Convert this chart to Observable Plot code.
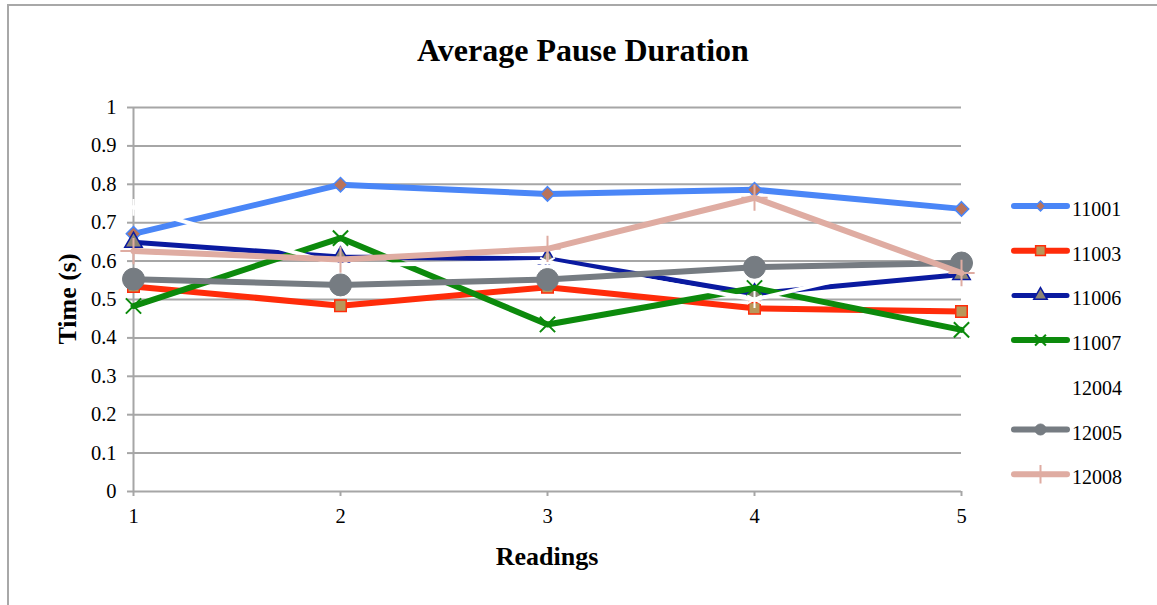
<!DOCTYPE html>
<html>
<head>
<meta charset="utf-8">
<script src="https://cdn.jsdelivr.net/npm/d3@7"></script>
<script src="https://cdn.jsdelivr.net/npm/@observablehq/plot@0.6"></script>
<style>
  html, body { margin: 0; padding: 0; background: #fff; }
</style>
</head>
<body>
<div id="chart"></div>
<script>
// Average pause duration (seconds) per participant over five readings
const readings = [1, 2, 3, 4, 5];
const participants = ["11001", "11003", "11006", "11007", "12004", "12005", "12008"];
const time11001 = [0.671, 0.799, 0.775, 0.786, 0.736];
const time11003 = [0.534, 0.484, 0.532, 0.477, 0.469];
const time11006 = [0.649, 0.611, 0.606, 0.515, 0.565];
const time11007 = [0.483, 0.660, 0.435, 0.530, 0.421];
const time12004 = [0.740, 0.589, 0.598, 0.500, 0.625];
const time12005 = [0.553, 0.538, 0.552, 0.584, 0.595];
const time12008 = [0.626, 0.604, 0.632, 0.765, 0.569];
const yTicks = [0, 0.1, 0.2, 0.3, 0.4, 0.5, 0.6, 0.7, 0.8, 0.9, 1];
const xTicks = [1, 2, 3, 4, 5];

const seriesValues = [time11001, time11003, time11006, time11007, time12004, time12005, time12008];

// Line and marker styling for each participant
const styles = {
  "11001": {line: "#4a86f7", width: 6, symbol: "diamond2", r: 6.5, fill: "#b9735b", stroke: "#4a86f7", sw: 1.5, lr: 4.5},
  "11003": {line: "#ff2c0a", width: 6, symbol: "square", r: 6.5, fill: "#b9975a", stroke: "#ff2c0a", sw: 1.5, lr: 5.5},
  "11006": {line: "#0a1aa0", width: 5, symbol: "triangle", r: 6.5, fill: "#8d8574", stroke: "#0a1aa0", sw: 1.5, lr: 5},
  "11007": {line: "#0c8a0c", width: 6, symbol: "times", r: 7, fill: "none", stroke: "#0c8a0c", sw: 2, lr: 5},
  "12004": {line: "#ffffff", width: 4, symbol: "asterisk", r: 8, fill: "none", stroke: "#ffffff", sw: 2, lr: 5},
  "12005": {line: "#767c82", width: 6, symbol: "circle", r: 11, fill: "#767c82", stroke: "#767c82", sw: 1, lr: 5.5},
  "12008": {line: "#dfaca2", width: 6, symbol: "plus", r: 8.5, fill: "none", stroke: "#dfaca2", sw: 2, lr: 6}
};

const rows = participants.flatMap((p, i) =>
  readings.map((x, j) => ({participant: p, reading: x, time: seriesValues[i][j]}))
);

const gridColor = "#a6a6a6";
const serif = "'Liberation Serif', 'Times New Roman', serif";

// Each series draws its line and then its markers, in series order
const seriesMarks = participants.flatMap(p => {
  const s = styles[p];
  const data = rows.filter(d => d.participant === p);
  return [
    Plot.line(data, {x: "reading", y: "time", stroke: s.line, strokeWidth: s.width, strokeLinejoin: "round", strokeLinecap: "round"}),
    Plot.dot(data, {x: "reading", y: "time", symbol: () => s.symbol, r: s.r, fill: s.fill, stroke: s.stroke, strokeWidth: s.sw})
  ];
});

const chart = Plot.plot({
  width: 1157,
  height: 605,
  marginLeft: 133,
  marginRight: 196,
  marginTop: 107,
  marginBottom: 114,
  style: {fontFamily: serif, fontSize: "20.5px", color: "#000", background: "#fff"},
  x: {domain: [1, 5], type: "linear"},
  y: {domain: [0, 1]},
  symbol: {type: "identity"},
  marks: [
    Plot.gridY(yTicks, {stroke: gridColor, strokeOpacity: 1, strokeWidth: 2}),
    Plot.ruleX([1], {stroke: gridColor, strokeWidth: 2}),
    Plot.axisY(yTicks, {
      tickSize: 6, tickPadding: 11, stroke: gridColor, strokeWidth: 2,
      fontSize: 20.5, tickFormat: d => String(+d.toFixed(1)), label: null
    }),
    Plot.axisX(xTicks, {
      tickSize: 5, tickPadding: 12, stroke: gridColor, strokeWidth: 2,
      fontSize: 20.5, tickFormat: d => String(d), label: null
    }),
    ...seriesMarks
  ]
});

document.getElementById("chart").appendChild(chart);

const svg = d3.select(chart);

// Chart border (top and left edges visible)
svg.insert("rect", ":first-child")
  .attr("x", 8).attr("y", 5).attr("width", 1300).attr("height", 800)
  .attr("fill", "none").attr("stroke", "#a8a8a8").attr("stroke-width", 2);

// Title and axis titles
svg.append("text")
  .attr("x", 583).attr("y", 50)
  .attr("text-anchor", "middle").attr("dominant-baseline", "central")
  .style("font-family", serif).style("font-size", "32px").style("font-weight", "bold")
  .text("Average Pause Duration");

svg.append("text")
  .attr("x", 547).attr("y", 556)
  .attr("text-anchor", "middle").attr("dominant-baseline", "central")
  .style("font-family", serif).style("font-size", "26px").style("font-weight", "bold")
  .text("Readings");

svg.append("text")
  .attr("transform", "translate(67,299) rotate(-90)")
  .attr("text-anchor", "middle").attr("dominant-baseline", "central")
  .style("font-family", serif).style("font-size", "26px").style("font-weight", "bold")
  .text("Time (s)");

// Legend on the right
const symbolTypes = {
  diamond2: d3.symbolDiamond2, square: d3.symbolSquare, triangle: d3.symbolTriangle,
  times: d3.symbolTimes, asterisk: d3.symbolAsterisk, circle: d3.symbolCircle, plus: d3.symbolPlus
};
const legend = svg.append("g");
participants.forEach((p, i) => {
  const s = styles[p];
  const y = 206 + i * 44.7;
  const g = legend.append("g").attr("transform", `translate(0,${y})`);
  g.append("line")
    .attr("x1", 1014).attr("x2", 1067).attr("y1", 0).attr("y2", 0)
    .attr("stroke", s.line).attr("stroke-width", s.width).attr("stroke-linecap", "round");
  g.append("path")
    .attr("transform", "translate(1040.5,0)")
    .attr("d", d3.symbol(symbolTypes[s.symbol], Math.PI * s.lr * s.lr)())
    .attr("fill", s.fill).attr("stroke", s.stroke).attr("stroke-width", s.sw);
  g.append("text")
    .attr("x", 1072).attr("y", 3)
    .attr("text-anchor", "start").attr("dominant-baseline", "central")
    .style("font-family", serif).style("font-size", "20px")
    .text(p);
});
</script>
</body>
</html>
